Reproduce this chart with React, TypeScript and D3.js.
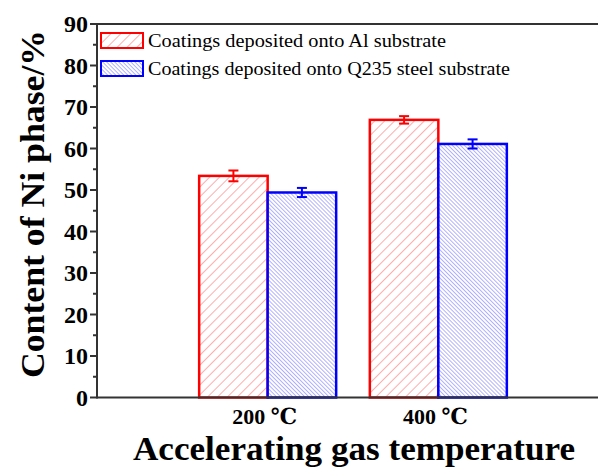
import React from "react";
import * as d3 from "d3";

const categories = ["200 ℃", "400 ℃"];
const seriesNames = [
  "Coatings deposited onto Al substrate",
  "Coatings deposited onto Q235 steel substrate",
];
const alValues = [53.4, 66.9];
const alErrors = [1.3, 0.9];
const steelValues = [49.4, 61.1];
const steelErrors = [1.1, 1.1];
const yTicks = [0, 10, 20, 30, 40, 50, 60, 70, 80, 90];

const W = 598;
const H = 468;
const left = 97;
const top = 24;
const bottom = 397.5;

export default function App() {
  const y = d3.scaleLinear().domain([0, 90]).range([bottom, top]);
  const x = d3.scaleLinear().domain([0, 3]).range([left, 609]);
  const barW = 68.5;
  const minor = d3.range(5, 90, 10);
  const serif = "'Liberation Serif', 'DejaVu Serif', serif";

  const series = [
    { values: alValues, errors: alErrors, stroke: "#ff0000", fill: "url(#hatchRed)", offset: -1 },
    { values: steelValues, errors: steelErrors, stroke: "#0000ff", fill: "url(#hatchBlue)", offset: 0 },
  ];

  return (
    <svg width={W} height={H} style={{ position: "absolute", left: 0, top: 0 }}>
      <defs>
        <pattern id="hatchRed" patternUnits="userSpaceOnUse" width="7" height="7" patternTransform="rotate(45)">
          <rect width="7" height="7" fill="#fff" />
          <line x1="0" y1="0" x2="0" y2="7" stroke="#ff5a5a" strokeWidth="1" />
        </pattern>
        <pattern id="hatchBlue" patternUnits="userSpaceOnUse" width="2.85" height="2.85" patternTransform="rotate(-45)">
          <rect width="2.85" height="2.85" fill="#fff" />
          <line x1="0" y1="0" x2="0" y2="2.85" stroke="#6464ff" strokeWidth="1" />
        </pattern>
      </defs>
      <rect width={W} height={H} fill="#fff" />

      {series.map((s, si) =>
        s.values.map((v, i) => {
          const cx = x(i + 1);
          const x0 = cx + s.offset * barW;
          const xm = x0 + barW / 2;
          return (
            <g key={`${si}-${i}`}>
              <rect x={x0} y={y(v)} width={barW} height={y(0) - y(v)} fill={s.fill} stroke={s.stroke} strokeWidth={2.5} />
              <line x1={xm} x2={xm} y1={y(v + s.errors[i])} y2={y(v - s.errors[i])} stroke={s.stroke} strokeWidth={2} />
              <line x1={xm - 5} x2={xm + 5} y1={y(v + s.errors[i])} y2={y(v + s.errors[i])} stroke={s.stroke} strokeWidth={2} />
              <line x1={xm - 5} x2={xm + 5} y1={y(v - s.errors[i])} y2={y(v - s.errors[i])} stroke={s.stroke} strokeWidth={2} />
            </g>
          );
        })
      )}

      {/* axes frame */}
      <line x1={left} x2={W} y1={top} y2={top} stroke="#333" strokeWidth={2} />
      <line x1={left} x2={W} y1={bottom} y2={bottom} stroke="#333" strokeWidth={2} />
      <line x1={left} x2={left} y1={top - 1} y2={bottom + 1} stroke="#333" strokeWidth={2} />

      {yTicks.map((t) => (
        <g key={t}>
          <line x1={left - 7} x2={left} y1={y(t)} y2={y(t)} stroke="#333" strokeWidth={2} />
          <text x={left - 9} y={y(t)} dy="0.35em" textAnchor="end" fontFamily={serif} fontWeight="bold" fontSize={24} fill="#000">
            {t}
          </text>
        </g>
      ))}
      {minor.map((t) => (
        <line key={t} x1={left - 4} x2={left} y1={y(t)} y2={y(t)} stroke="#333" strokeWidth={2} />
      ))}

      {categories.map((c, i) => (
        <text key={c} x={x(i + 1) - 3} y={424} textAnchor="middle" fontFamily={serif} fontWeight="bold" fontSize={22} fill="#000">
          {c}
        </text>
      ))}

      <text x={354} y={460} textAnchor="middle" fontFamily={serif} fontWeight="bold" fontSize={33} textLength={442} lengthAdjust="spacingAndGlyphs" fill="#000">
        Accelerating gas temperature
      </text>
      <text transform={`translate(44,${204}) rotate(-90)`} textAnchor="middle" fontFamily={serif} fontWeight="bold" fontSize={33} textLength={348} lengthAdjust="spacingAndGlyphs" fill="#000">
        Content of Ni phase/%
      </text>

      {/* legend */}
      {seriesNames.map((n, i) => (
        <g key={n} transform={`translate(101,${33 + i * 28})`}>
          <rect width={42} height={15} fill={i === 0 ? "url(#hatchRed)" : "url(#hatchBlue)"} stroke={i === 0 ? "#ff0000" : "#0000ff"} strokeWidth={2} />
          <text x={47} y={7.5} dy="0.36em" fontFamily={serif} fontSize={18.5} textLength={i === 0 ? 298 : 362} lengthAdjust="spacingAndGlyphs" fill="#000">
            {n}
          </text>
        </g>
      ))}
    </svg>
  );
}
